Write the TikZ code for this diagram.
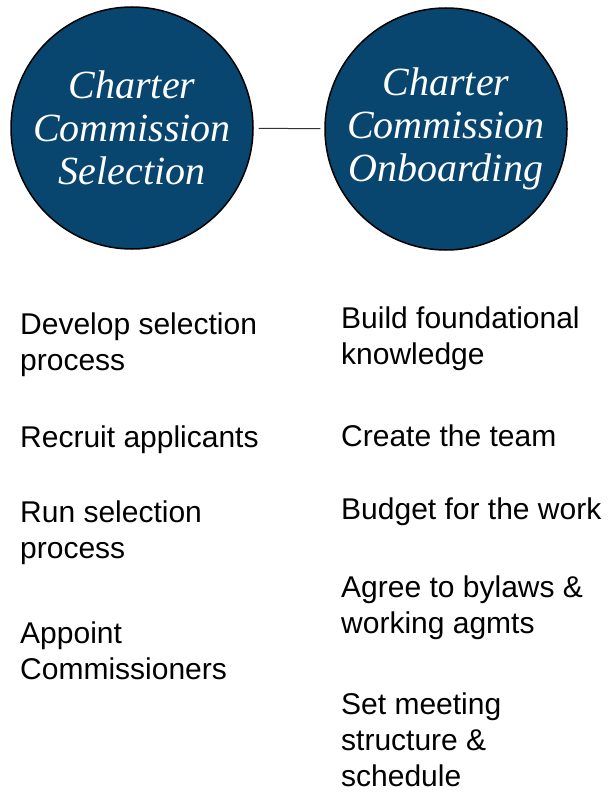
\documentclass[tikz,border=0pt]{standalone}
\usepackage{fontspec}
\usepackage{tikz}
\newfontfamily\circfont{Liberation Serif}
\newfontfamily\taskfont{Liberation Sans}
\definecolor{ccblue}{HTML}{08466F}
\tikzstyle{ph} = [circle, draw=black, line width=1.5pt, fill=ccblue,
    text=white, minimum size=242pt, inner sep=0pt, align=center,
    font=\circfont\itshape\fontsize{40}{43}\selectfont]
\tikzstyle{tk} = [anchor=west, inner sep=0pt, align=left,
    font=\taskfont\fontsize{30}{36}\selectfont]

\begin{document}
\begin{tikzpicture}[x=1pt,y=-1pt]
  \useasboundingbox (0,0) rectangle (608,792);
  \node[ph] (sel) at (132,128) {Charter\\Commission\\Selection};
  \node[ph] (onb) at (446,129) {Charter\\Commission\\Onboarding};

  \draw[black!80, line width=1pt, shorten <=5pt, shorten >=4pt] (sel) -- (onb);

  % selection tasks
  \node[tk] (s1) at (20,345)   {Develop selection\\process};
  \node[tk] (s2) at (20,439.5) {Recruit applicants};
  \node[tk] (s3) at (20,533)   {Run selection\\process};
  \node[tk] (s4) at (20,650.5) {Appoint\\Commissioners};

  % onboarding tasks
  \node[tk] (o1) at (341,339)   {Build foundational\\knowledge};
  \node[tk] (o2) at (341,435.5) {Create the team};
  \node[tk] (o3) at (341,512)   {Budget for the work};
  \node[tk] (o4) at (341,607.5) {Agree to bylaws \&\\working agmts};
  \node[tk] (o5) at (341,740)   {Set meeting\\structure \&\\schedule};
\end{tikzpicture}
\end{document}
